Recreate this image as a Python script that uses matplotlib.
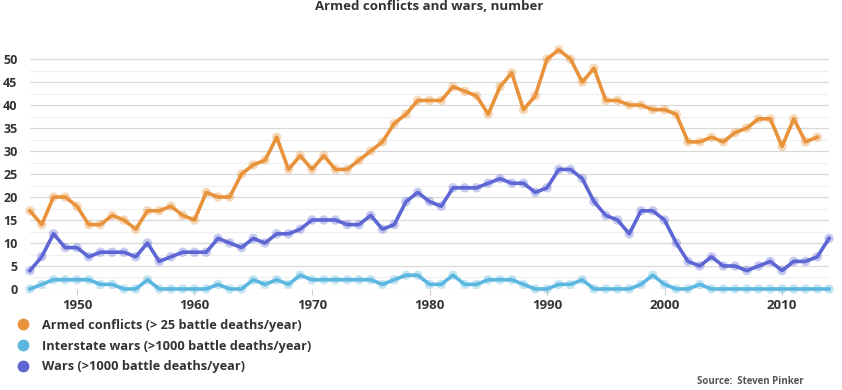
import matplotlib.pyplot as plt
from matplotlib.lines import Line2D

# Data (1946-2014)
years = list(range(1946, 2015))
armed_conflicts = [17, 14, 20, 20, 18, 14, 14, 16, 15, 13,
                   17, 17, 18, 16, 15, 21, 20, 20, 25, 27,
                   28, 33, 26, 29, 26, 29, 26, 26, 28, 30,
                   32, 36, 38, 41, 41, 41, 44, 43, 42, 38,
                   44, 47, 39, 42, 50, 52, 50, 45, 48, 41,
                   41, 40, 40, 39, 39, 38, 32, 32, 33, 32,
                   34, 35, 37, 37, 31, 37, 32, 33]
interstate_wars = [0, 1, 2, 2, 2, 2, 1, 1, 0, 0,
                   2, 0, 0, 0, 0, 0, 1, 0, 0, 2,
                   1, 2, 1, 3, 2, 2, 2, 2, 2, 2,
                   1, 2, 3, 3, 1, 1, 3, 1, 1, 2,
                   2, 2, 1, 0, 0, 1, 1, 2, 0, 0,
                   0, 0, 1, 3, 1, 0, 0, 1, 0, 0,
                   0, 0, 0, 0, 0, 0, 0, 0, 0]
wars = [4, 7, 12, 9, 9, 7, 8, 8, 8, 7,
        10, 6, 7, 8, 8, 8, 11, 10, 9, 11,
        10, 12, 12, 13, 15, 15, 15, 14, 14, 16,
        13, 14, 19, 21, 19, 18, 22, 22, 22, 23,
        24, 23, 23, 21, 22, 26, 26, 24, 19, 16,
        15, 12, 17, 17, 15, 10, 6, 5, 7, 5,
        5, 4, 5, 6, 4, 6, 6, 7, 11]

labels = ['Armed conflicts (> 25 battle deaths/year)',
          'Interstate wars (>1000 battle deaths/year)',
          'Wars (>1000 battle deaths/year)']
colors = ['#E8933C', '#5BB7DF', '#5E66D4']

plt.rcParams['font.family'] = ['Open Sans', 'DejaVu Sans']

fig = plt.figure(figsize=(8.42, 3.9), dpi=100)
ax = fig.add_axes([0.0356, 0.259, 0.949, 0.619])

series = [(years[:len(armed_conflicts)], armed_conflicts),
          (years, interstate_wars),
          (years, wars)]
for (xs, ys), c in zip(series, colors):
    ax.plot(xs, ys, color=c, lw=2.6, zorder=3, clip_on=False,
            solid_joinstyle='round')
    ax.scatter(xs, ys, s=46, color=c, alpha=0.35, edgecolors='none',
               zorder=2, clip_on=False)

ax.set_xlim(1946, 2014)
ax.set_ylim(0, 52.5)
ax.set_yticks(range(0, 55, 5))
ax.set_yticks([2.5 + 5 * i for i in range(10)], minor=True)
ax.set_xticks(range(1950, 2020, 10))
ax.grid(axis='y', which='major', color='#d9d9d9', lw=0.9)
ax.grid(axis='y', which='minor', color='#f0f0f0', lw=0.9)
ax.set_axisbelow(True)
for s in ax.spines.values():
    s.set_visible(False)
ax.tick_params(axis='y', which='both', length=0, pad=9,
               labelsize=9, labelcolor='#333333')
ax.tick_params(axis='x', length=4, color='#cccccc', pad=3,
               labelsize=9.5, labelcolor='#333333')
for t in ax.get_xticklabels() + ax.get_yticklabels():
    t.set_fontweight('bold')

fig.text(0.51, 1 - 7 / 390, 'Armed conflicts and wars, number', fontsize=9.5,
         fontweight='bold', color='#333333', ha='center', va='center')

handles = [Line2D([], [], ls='none', marker='o', ms=7.5, color=c) for c in colors]
leg = fig.legend(handles, labels, loc='upper left', bbox_to_anchor=(0.0197, 0.183),
                 frameon=False, fontsize=9.2, handletextpad=0.95, labelspacing=0.62,
                 handlelength=1.0, borderaxespad=0, borderpad=0)
for t in leg.get_texts():
    t.set_fontweight('bold')
    t.set_color('#333333')

fig.text(0.955, 1 - 381 / 390, 'Source:  Steven Pinker', fontsize=7, color='#555555',
         fontweight='bold', ha='right', va='center')

fig.savefig('out.png', dpi=100)
